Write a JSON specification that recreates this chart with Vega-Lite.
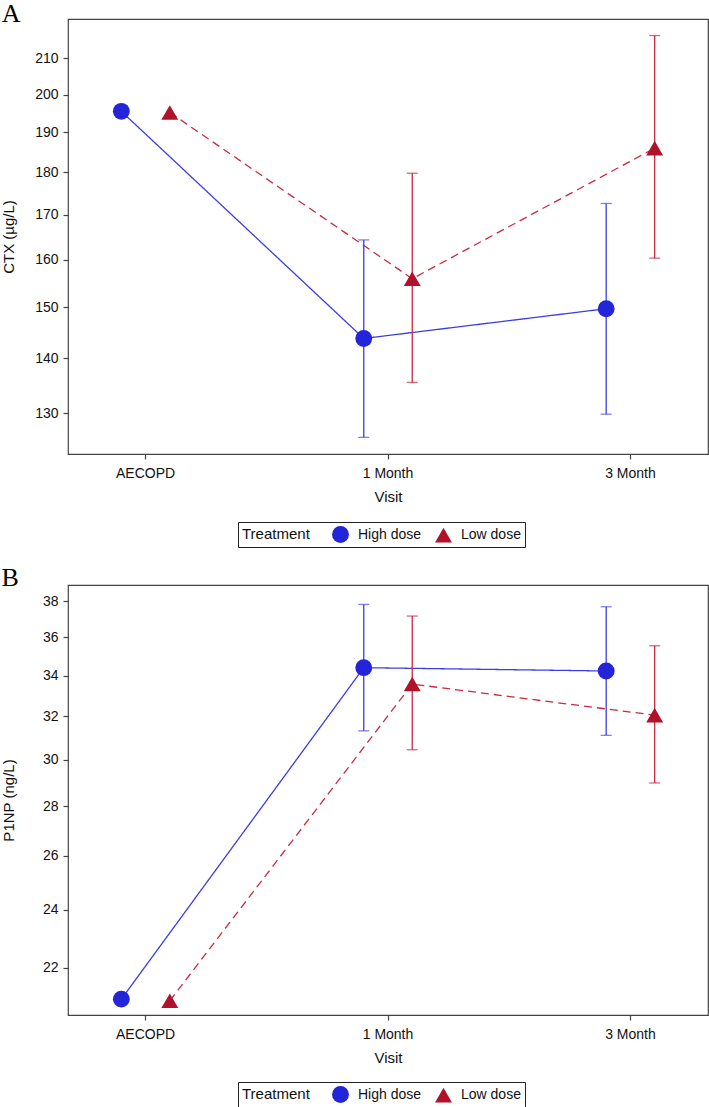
{
  "$schema": "https://vega.github.io/schema/vega-lite/v6.json",
  "background": "white",
  "padding": {"left": 0, "top": 0, "right": 0, "bottom": 0},
  "datasets": {
    "ctx": [
      {"Visit": "AECOPD", "Treatment": "High dose", "mean": 195.5, "lower": null, "upper": null},
      {"Visit": "1 Month", "Treatment": "High dose", "mean": 143.8, "lower": 125.8, "upper": 164.3},
      {"Visit": "3 Month", "Treatment": "High dose", "mean": 149.7, "lower": 129.8, "upper": 172.6},
      {"Visit": "AECOPD", "Treatment": "Low dose", "mean": 195.2, "lower": null, "upper": null},
      {"Visit": "1 Month", "Treatment": "Low dose", "mean": 155.9, "lower": 135.5, "upper": 179.8},
      {"Visit": "3 Month", "Treatment": "Low dose", "mean": 186.0, "lower": 160.3, "upper": 216.6}
    ],
    "p1np": [
      {"Visit": "AECOPD", "Treatment": "High dose", "mean": 21.0, "lower": null, "upper": null},
      {"Visit": "1 Month", "Treatment": "High dose", "mean": 34.41, "lower": 31.32, "upper": 37.81},
      {"Visit": "3 Month", "Treatment": "High dose", "mean": 34.24, "lower": 31.11, "upper": 37.68},
      {"Visit": "AECOPD", "Treatment": "Low dose", "mean": 20.95, "lower": null, "upper": null},
      {"Visit": "1 Month", "Treatment": "Low dose", "mean": 33.58, "lower": 30.45, "upper": 37.16},
      {"Visit": "3 Month", "Treatment": "Low dose", "mean": 32.06, "lower": 28.98, "upper": 35.55}
    ]
  },
  "config": {
    "view": {"stroke": "#444", "strokeWidth": 1.2},
    "font": "Liberation Sans",
    "axis": {
      "labelFont": "Liberation Sans", "labelFontSize": 14, "labelColor": "#111",
      "titleFont": "Liberation Sans", "titleFontSize": 15, "titleFontWeight": "normal", "titleColor": "#111",
      "domain": false, "grid": false, "tickColor": "#444", "tickSize": 5, "tickWidth": 1.2
    },
    "legend": {
      "labelFont": "Liberation Sans", "titleFont": "Liberation Sans", "labelColor": "#111", "titleColor": "#111"
    },
    "title": {"font": "Liberation Serif", "fontSize": 26, "fontWeight": "normal", "anchor": "start", "color": "black"},
    "concat": {"spacing": 15}
  },
  "resolve": {
    "scale": {"color": "independent", "shape": "independent", "y": "independent"},
    "legend": {"color": "independent", "shape": "independent"}
  },
  "vconcat": [
    {
      "title": {"text": "A", "offset": -8},
      "width": 640,
      "height": 435,
      "data": {"name": "ctx"},
      "encoding": {
        "x": {"field": "Visit", "type": "nominal", "sort": ["AECOPD", "1 Month", "3 Month"],
              "scale": {"paddingInner": 0.6, "paddingOuter": 0.12},
              "axis": {"title": "Visit", "labelAngle": 0, "labelPadding": 7, "titlePadding": 9}},
        "xOffset": {"field": "Treatment", "type": "nominal", "sort": ["High dose", "Low dose"],
                    "scale": {"paddingInner": 0, "paddingOuter": 0}}
      },
      "layer": [
        {
          "mark": {"type": "line", "strokeWidth": 1.3},
          "encoding": {
            "y": {"field": "mean", "type": "quantitative",
                  "scale": {"type": "log", "domain": [123, 221.5], "nice": false, "zero": false},
                  "axis": {"title": "CTX (µg/L)", "values": [130, 140, 150, 160, 170, 180, 190, 200, 210], "format": "d", "labelPadding": 5, "titlePadding": 18}},
            "stroke": {"field": "Treatment", "type": "nominal", "legend": null,
                       "scale": {"domain": ["High dose", "Low dose"], "range": ["#3c3ce6", "#c82a45"]}},
            "strokeDash": {"field": "Treatment", "type": "nominal", "legend": null,
                           "scale": {"domain": ["High dose", "Low dose"], "range": [[1, 0], [8, 5]]}},
            "order": {"value": null}
          }
        },
        {
          "transform": [{"filter": "isValid(datum.lower)"}],
          "mark": {"type": "rule", "strokeWidth": 1.3},
          "encoding": {
            "y": {"field": "lower", "type": "quantitative",
                  "axis": {"title": "CTX (µg/L)", "values": [130, 140, 150, 160, 170, 180, 190, 200, 210], "format": "d", "labelPadding": 5, "titlePadding": 18}},
            "y2": {"field": "upper"},
            "stroke": {"field": "Treatment", "type": "nominal", "legend": null}
          }
        },
        {
          "transform": [{"filter": "isValid(datum.lower)"}],
          "mark": {"type": "tick", "size": 11, "thickness": 1.3},
          "encoding": {
            "y": {"field": "lower", "type": "quantitative",
                  "axis": {"title": "CTX (µg/L)", "values": [130, 140, 150, 160, 170, 180, 190, 200, 210], "format": "d", "labelPadding": 5, "titlePadding": 18}},
            "fill": {"field": "Treatment", "type": "nominal", "legend": null,
                     "scale": {"domain": ["High dose", "Low dose"], "range": ["#4a4aee", "#c82a45"]}}
          }
        },
        {
          "transform": [{"filter": "isValid(datum.upper)"}],
          "mark": {"type": "tick", "size": 11, "thickness": 1.3},
          "encoding": {
            "y": {"field": "upper", "type": "quantitative",
                  "axis": {"title": "CTX (µg/L)", "values": [130, 140, 150, 160, 170, 180, 190, 200, 210], "format": "d", "labelPadding": 5, "titlePadding": 18}},
            "fill": {"field": "Treatment", "type": "nominal", "legend": null}
          }
        },
        {
          "mark": {"type": "point", "filled": true, "opacity": 1, "size": 285},
          "encoding": {
            "y": {"field": "mean", "type": "quantitative",
                  "axis": {"title": "CTX (µg/L)", "values": [130, 140, 150, 160, 170, 180, 190, 200, 210], "format": "d", "labelPadding": 5, "titlePadding": 18}},
            "color": {"field": "Treatment", "type": "nominal",
                      "scale": {"domain": ["High dose", "Low dose"], "range": ["#2424d8", "#b0112b"]},
                      "legend": {"orient": "none", "legendX": 170, "legendY": 503, "direction": "horizontal",
                                 "title": "Treatment", "titleOrient": "left", "titleFontSize": 15, "titleFontWeight": "normal",
                                 "titlePadding": 22, "labelFontSize": 14, "labelOffset": 9, "columnPadding": 13,
                                 "symbolSize": 285, "symbolStrokeWidth": 0, "strokeColor": "#222", "padding": 4}},
            "shape": {"field": "Treatment", "type": "nominal",
                      "scale": {"domain": ["High dose", "Low dose"], "range": ["circle", "triangle-up"]},
                      "legend": {"orient": "none", "legendX": 170, "legendY": 503, "direction": "horizontal",
                                 "title": "Treatment", "titleOrient": "left", "titleFontSize": 15, "titleFontWeight": "normal",
                                 "titlePadding": 22, "labelFontSize": 14, "labelOffset": 9, "columnPadding": 13,
                                 "symbolSize": 285, "symbolStrokeWidth": 0, "strokeColor": "#222", "padding": 4}}
          }
        }
      ]
    },
    {
      "title": {"text": "B", "offset": -6},
      "width": 640,
      "height": 430,
      "data": {"name": "p1np"},
      "encoding": {
        "x": {"field": "Visit", "type": "nominal", "sort": ["AECOPD", "1 Month", "3 Month"],
              "scale": {"paddingInner": 0.6, "paddingOuter": 0.12},
              "axis": {"title": "Visit", "labelAngle": 0, "labelPadding": 7, "titlePadding": 9}},
        "xOffset": {"field": "Treatment", "type": "nominal", "sort": ["High dose", "Low dose"],
                    "scale": {"paddingInner": 0, "paddingOuter": 0}}
      },
      "layer": [
        {
          "mark": {"type": "line", "strokeWidth": 1.3},
          "encoding": {
            "y": {"field": "mean", "type": "quantitative",
                  "scale": {"type": "log", "domain": [20.51, 38.92], "nice": false, "zero": false},
                  "axis": {"title": "P1NP (ng/L)", "values": [22, 24, 26, 28, 30, 32, 34, 36, 38], "format": "d", "labelPadding": 5, "titlePadding": 26}},
            "stroke": {"field": "Treatment", "type": "nominal", "legend": null,
                       "scale": {"domain": ["High dose", "Low dose"], "range": ["#3c3ce6", "#c82a45"]}},
            "strokeDash": {"field": "Treatment", "type": "nominal", "legend": null,
                           "scale": {"domain": ["High dose", "Low dose"], "range": [[1, 0], [8, 5]]}},
            "order": {"value": null}
          }
        },
        {
          "transform": [{"filter": "isValid(datum.lower)"}],
          "mark": {"type": "rule", "strokeWidth": 1.3},
          "encoding": {
            "y": {"field": "lower", "type": "quantitative",
                  "axis": {"title": "P1NP (ng/L)", "values": [22, 24, 26, 28, 30, 32, 34, 36, 38], "format": "d", "labelPadding": 5, "titlePadding": 26}},
            "y2": {"field": "upper"},
            "stroke": {"field": "Treatment", "type": "nominal", "legend": null}
          }
        },
        {
          "transform": [{"filter": "isValid(datum.lower)"}],
          "mark": {"type": "tick", "size": 11, "thickness": 1.3},
          "encoding": {
            "y": {"field": "lower", "type": "quantitative",
                  "axis": {"title": "P1NP (ng/L)", "values": [22, 24, 26, 28, 30, 32, 34, 36, 38], "format": "d", "labelPadding": 5, "titlePadding": 26}},
            "fill": {"field": "Treatment", "type": "nominal", "legend": null,
                     "scale": {"domain": ["High dose", "Low dose"], "range": ["#4a4aee", "#c82a45"]}}
          }
        },
        {
          "transform": [{"filter": "isValid(datum.upper)"}],
          "mark": {"type": "tick", "size": 11, "thickness": 1.3},
          "encoding": {
            "y": {"field": "upper", "type": "quantitative",
                  "axis": {"title": "P1NP (ng/L)", "values": [22, 24, 26, 28, 30, 32, 34, 36, 38], "format": "d", "labelPadding": 5, "titlePadding": 26}},
            "fill": {"field": "Treatment", "type": "nominal", "legend": null}
          }
        },
        {
          "mark": {"type": "point", "filled": true, "opacity": 1, "size": 285},
          "encoding": {
            "y": {"field": "mean", "type": "quantitative",
                  "axis": {"title": "P1NP (ng/L)", "values": [22, 24, 26, 28, 30, 32, 34, 36, 38], "format": "d", "labelPadding": 5, "titlePadding": 26}},
            "color": {"field": "Treatment", "type": "nominal",
                      "scale": {"domain": ["High dose", "Low dose"], "range": ["#2424d8", "#b0112b"]},
                      "legend": {"orient": "none", "legendX": 170, "legendY": 497, "direction": "horizontal",
                                 "title": "Treatment", "titleOrient": "left", "titleFontSize": 15, "titleFontWeight": "normal",
                                 "titlePadding": 22, "labelFontSize": 14, "labelOffset": 9, "columnPadding": 13,
                                 "symbolSize": 285, "symbolStrokeWidth": 0, "strokeColor": "#222", "padding": 4}},
            "shape": {"field": "Treatment", "type": "nominal",
                      "scale": {"domain": ["High dose", "Low dose"], "range": ["circle", "triangle-up"]},
                      "legend": {"orient": "none", "legendX": 170, "legendY": 497, "direction": "horizontal",
                                 "title": "Treatment", "titleOrient": "left", "titleFontSize": 15, "titleFontWeight": "normal",
                                 "titlePadding": 22, "labelFontSize": 14, "labelOffset": 9, "columnPadding": 13,
                                 "symbolSize": 285, "symbolStrokeWidth": 0, "strokeColor": "#222", "padding": 4}}
          }
        }
      ]
    }
  ]
}
